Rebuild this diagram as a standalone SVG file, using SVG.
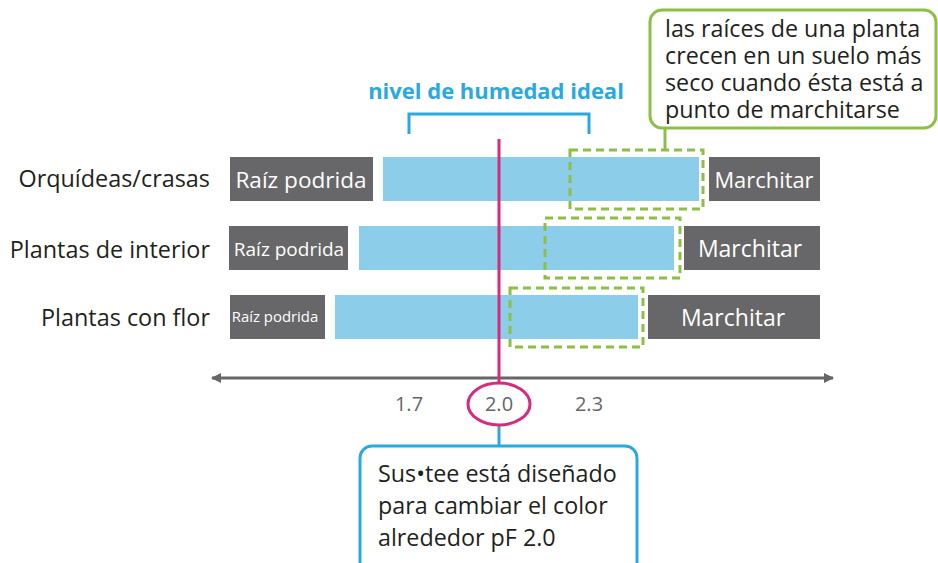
<svg xmlns="http://www.w3.org/2000/svg" width="938" height="563" viewBox="0 0 938 563">
<style>
text{font-family:"Open Sans","Liberation Sans",sans-serif}
.lbl{font-size:23.4px;fill:#231f20;text-anchor:end}
.gbox{fill:#676668}
.bar{fill:#8ccde9}
.wt{fill:#fff;text-anchor:middle}
.dash{fill:none;stroke:#8cbf44;stroke-width:3;stroke-dasharray:8 5}
.tick{font-size:20px;fill:#666;text-anchor:middle}
.note{font-size:23.3px;fill:#231f20}
</style>
<defs>
<marker id="ah" markerWidth="10" markerHeight="10" refX="9" refY="5" orient="auto-start-reverse" markerUnits="userSpaceOnUse">
<path d="M0,0 L10,5 L0,10 Z" fill="#666"/>
</marker>
</defs>
<g id="title">
<text x="496" y="99" font-size="22" font-weight="bold" fill="#29a9e0" text-anchor="middle">nivel de humedad ideal</text>
<path d="M409,134 V114 H589 V134" fill="none" stroke="#29a9e0" stroke-width="3"/>
</g>
<g id="row1">
<text class="lbl" x="210" y="187">Orquídeas/crasas</text>
<rect class="gbox" x="230" y="157" width="143" height="44"/>
<text class="wt" x="301" y="188" font-size="22.6">Raíz podrida</text>
<rect class="bar" x="383" y="157" width="316" height="44"/>
<rect class="gbox" x="709" y="157" width="111" height="44"/>
<text class="wt" x="764" y="188" font-size="21.9">Marchitar</text>
</g>
<g id="row2">
<text class="lbl" x="210" y="258">Plantas de interior</text>
<rect class="gbox" x="229" y="226" width="119" height="44"/>
<text class="wt" x="289" y="256" font-size="19">Raíz podrida</text>
<rect class="bar" x="359" y="226" width="315" height="44"/>
<rect class="gbox" x="684" y="226" width="136" height="44"/>
<text class="wt" x="750" y="257" font-size="23">Marchitar</text>
</g>
<g id="row3">
<text class="lbl" x="210" y="326">Plantas con flor</text>
<rect class="gbox" x="230" y="295" width="95" height="44"/>
<text class="wt" x="275" y="322" font-size="14.9">Raíz podrida</text>
<rect class="bar" x="335" y="295" width="303" height="44"/>
<rect class="gbox" x="648" y="295" width="172" height="44"/>
<text class="wt" x="733" y="326" font-size="23">Marchitar</text>
</g>
<g id="dry-zones">
<rect class="dash" x="570" y="150" width="133" height="59"/>
<rect class="dash" x="545" y="218" width="135" height="60"/>
<rect class="dash" x="510" y="288" width="133" height="59"/>
</g>
<g id="axis">
<line x1="212" y1="378" x2="833" y2="378" stroke="#666" stroke-width="3" marker-start="url(#ah)" marker-end="url(#ah)"/>
<text class="tick" x="409" y="411">1.7</text>
<text class="tick" x="589" y="411">2.3</text>
</g>
<g id="connectors">
<line x1="499" y1="139" x2="499" y2="383" stroke="#d62a80" stroke-width="3"/>
<line x1="665" y1="128" x2="665" y2="150" stroke="#8cbf44" stroke-width="3"/>
<line x1="499" y1="425" x2="499" y2="446" stroke="#29a9e0" stroke-width="3"/>
</g>
<g id="marker-20">
<ellipse cx="499" cy="404" rx="31" ry="21" fill="#fff" stroke="#d62a80" stroke-width="3"/>
<text class="tick" x="499" y="411">2.0</text>
</g>
<g id="note-dry">
<rect x="650" y="10" width="286" height="118" rx="12" fill="#fff" stroke="#8cbf44" stroke-width="3"/>
<text class="note" x="665" y="37">las raíces de una planta</text>
<text class="note" x="665" y="64">crecen en un suelo más</text>
<text class="note" x="665" y="91">seco cuando ésta está a</text>
<text class="note" x="665" y="118">punto de marchitarse</text>
</g>
<g id="note-sustee">
<rect x="360" y="446" width="277" height="130" rx="12" fill="#fff" stroke="#29a9e0" stroke-width="3"/>
<text class="note" x="378" y="482">Sus•tee está diseñado</text>
<text class="note" x="378" y="514">para cambiar el color</text>
<text class="note" x="378" y="546">alrededor pF 2.0</text>
</g>
</svg>
